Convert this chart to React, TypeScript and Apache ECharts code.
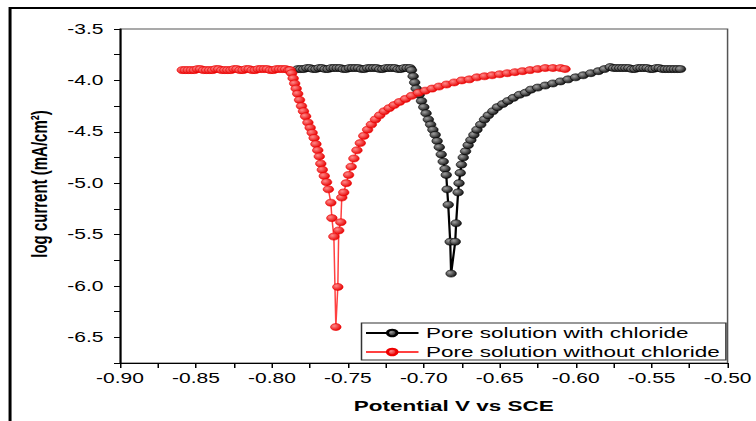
import { useEffect, useRef } from "react";
import * as echarts from "echarts";

// Potential (V vs SCE) and log current (mA/cm²)
const withChloride: [number, number][] = [
  [-0.783, -3.89], [-0.781, -3.89], [-0.779, -3.89], [-0.777, -3.88], [-0.775, -3.88],
  [-0.773, -3.89], [-0.771, -3.89], [-0.769, -3.88], [-0.767, -3.88], [-0.765, -3.89],
  [-0.763, -3.89], [-0.761, -3.88], [-0.759, -3.88], [-0.757, -3.88], [-0.755, -3.88],
  [-0.753, -3.89], [-0.751, -3.89], [-0.749, -3.88], [-0.747, -3.88], [-0.745, -3.88],
  [-0.743, -3.88], [-0.741, -3.89], [-0.739, -3.89], [-0.737, -3.88], [-0.735, -3.88],
  [-0.733, -3.88], [-0.731, -3.88], [-0.729, -3.89], [-0.727, -3.89], [-0.725, -3.88],
  [-0.723, -3.88], [-0.721, -3.88], [-0.719, -3.88], [-0.717, -3.89], [-0.715, -3.89],
  [-0.713, -3.88], [-0.711, -3.88], [-0.709, -3.88],
  [-0.7081, -3.9], [-0.707, -3.96], [-0.706, -4.02], [-0.705, -4.08], [-0.703, -4.14],
  [-0.7015, -4.2], [-0.7, -4.26], [-0.6985, -4.32], [-0.697, -4.38], [-0.6955, -4.43],
  [-0.694, -4.48], [-0.6925, -4.53], [-0.6912, -4.59], [-0.6898, -4.65], [-0.6885, -4.72],
  [-0.6872, -4.79], [-0.686, -4.86], [-0.6852, -4.92], [-0.6846, -5.06], [-0.6839, -5.21],
  [-0.6826, -5.57], [-0.682, -5.88], [-0.6793, -5.57], [-0.6787, -5.39], [-0.6774, -5.09],
  [-0.6768, -5.0], [-0.676, -4.9], [-0.6752, -4.82], [-0.674, -4.75], [-0.6725, -4.69],
  [-0.6708, -4.63], [-0.669, -4.58], [-0.667, -4.53], [-0.665, -4.48], [-0.6625, -4.43],
  [-0.66, -4.38], [-0.6575, -4.34], [-0.6545, -4.3], [-0.6515, -4.26], [-0.648, -4.23],
  [-0.6446, -4.2], [-0.641, -4.17], [-0.637, -4.14], [-0.633, -4.12], [-0.6295, -4.09],
  [-0.625, -4.07], [-0.62, -4.05], [-0.615, -4.03], [-0.61, -4.01], [-0.605, -3.99],
  [-0.6, -3.97], [-0.595, -3.95], [-0.59, -3.93], [-0.585, -3.91], [-0.581, -3.89],
  [-0.5772, -3.87], [-0.575, -3.88], [-0.573, -3.88], [-0.571, -3.88], [-0.569, -3.88],
  [-0.567, -3.88], [-0.565, -3.88], [-0.563, -3.89], [-0.561, -3.89], [-0.559, -3.88],
  [-0.557, -3.88], [-0.555, -3.88], [-0.553, -3.88], [-0.551, -3.89], [-0.549, -3.89],
  [-0.547, -3.88], [-0.545, -3.88], [-0.543, -3.89], [-0.541, -3.89], [-0.539, -3.89],
  [-0.537, -3.89], [-0.535, -3.89], [-0.533, -3.89], [-0.531, -3.89],
];

const withoutChloride: [number, number][] = [
  [-0.859, -3.9], [-0.857, -3.9], [-0.855, -3.9], [-0.853, -3.9], [-0.851, -3.9],
  [-0.849, -3.89], [-0.847, -3.89], [-0.845, -3.9], [-0.843, -3.9], [-0.841, -3.9],
  [-0.839, -3.9], [-0.837, -3.89], [-0.835, -3.89], [-0.833, -3.9], [-0.831, -3.9],
  [-0.829, -3.9], [-0.827, -3.9], [-0.825, -3.89], [-0.823, -3.89], [-0.821, -3.9],
  [-0.819, -3.9], [-0.817, -3.89], [-0.815, -3.89], [-0.813, -3.9], [-0.811, -3.9],
  [-0.809, -3.89], [-0.807, -3.89], [-0.805, -3.89], [-0.803, -3.89], [-0.801, -3.9],
  [-0.799, -3.9], [-0.797, -3.89], [-0.795, -3.89], [-0.793, -3.89], [-0.791, -3.89],
  [-0.789, -3.9], [-0.788, -3.9],
  [-0.787, -3.93], [-0.786, -3.98], [-0.785, -4.03], [-0.784, -4.08], [-0.783, -4.13],
  [-0.7818, -4.19], [-0.7805, -4.25], [-0.7792, -4.3], [-0.7778, -4.35], [-0.7763, -4.41],
  [-0.7748, -4.46], [-0.7735, -4.51], [-0.7722, -4.56], [-0.771, -4.62], [-0.7698, -4.68],
  [-0.7688, -4.74], [-0.7678, -4.81], [-0.7668, -4.87], [-0.7655, -4.93], [-0.764, -4.99],
  [-0.7628, -5.06], [-0.7612, -5.19], [-0.7605, -5.34], [-0.7592, -5.52], [-0.7579, -6.4],
  [-0.7566, -6.01], [-0.756, -5.46], [-0.7546, -5.38], [-0.754, -5.14], [-0.7527, -5.09],
  [-0.751, -5.0], [-0.7495, -4.92], [-0.7478, -4.84], [-0.746, -4.76], [-0.744, -4.68],
  [-0.7418, -4.61], [-0.7395, -4.54], [-0.737, -4.48], [-0.7345, -4.43], [-0.7318, -4.38],
  [-0.729, -4.34], [-0.726, -4.3], [-0.7228, -4.27], [-0.7195, -4.24], [-0.716, -4.21],
  [-0.712, -4.18], [-0.708, -4.15], [-0.7035, -4.12], [-0.699, -4.1], [-0.6945, -4.08],
  [-0.69, -4.06], [-0.685, -4.04], [-0.68, -4.02], [-0.675, -4.0], [-0.67, -3.99],
  [-0.665, -3.97], [-0.66, -3.96], [-0.655, -3.95], [-0.65, -3.94], [-0.645, -3.93],
  [-0.64, -3.92], [-0.635, -3.91], [-0.63, -3.9], [-0.625, -3.89], [-0.62, -3.88],
  [-0.615, -3.88], [-0.61, -3.88], [-0.607, -3.89],
];

const seriesNames = ["Pore solution with chloride", "Pore solution without chloride"];
const xName = "Potential V vs SCE";
const yName = "log current (mA/cm²)";
const xMin = -0.9;
const xMax = -0.5;
const xStep = 0.025;
const yMin = -6.75;
const yMax = -3.5;
const yStep = 0.25;

const FONT = "'Liberation Sans', Arial, Helvetica, sans-serif";

export default function App() {
  const ref = useRef<HTMLDivElement>(null);
  useEffect(() => {
    if (!ref.current) return;
    const chart = echarts.init(ref.current, null, { renderer: "svg" });
    const blackBall = new echarts.graphic.RadialGradient(0.35, 0.35, 0.7, [
      { offset: 0, color: "#a0a0a0" },
      { offset: 1, color: "#111111" },
    ]);
    const redBall = new echarts.graphic.RadialGradient(0.35, 0.35, 0.7, [
      { offset: 0, color: "#ff8a8a" },
      { offset: 1, color: "#e60000" },
    ]);
    chart.setOption({
      animation: false,
      backgroundColor: "#ffffff",
      textStyle: { fontFamily: FONT },
      graphic: [
        {
          type: "rect",
          x: 6.7,
          y: 8,
          shape: { x: 0, y: 0, width: 700, height: 600 },
          style: { fill: "none", stroke: "#000", lineWidth: 2 },
          silent: true,
          z: -1,
        },
      ],
      grid: {
        left: 80,
        right: 16.7,
        top: 29,
        bottom: 58,
        show: true,
        borderColor: "#555",
        borderWidth: 1,
        backgroundColor: "transparent",
      },
      legend: {
        orient: "vertical",
        left: 241,
        top: 323,
        padding: [2, 4, 0, 2],
        itemGap: 3,
        itemWidth: 35,
        itemHeight: 8,
        borderColor: "#333",
        borderWidth: 1,
        backgroundColor: "#fff",
        textStyle: { fontSize: 15, color: "#000", lineHeight: 16, fontFamily: FONT },
        data: seriesNames,
      },
      xAxis: {
        type: "value",
        min: xMin,
        max: xMax,
        interval: xStep,
        axisLine: { show: true, onZero: false, lineStyle: { color: "#000", width: 1.2 } },
        axisTick: { show: true, inside: false, length: 5, lineStyle: { color: "#000" } },
        axisLabel: {
          margin: 8,
          fontSize: 14,
          color: "#000",
          fontFamily: FONT,
          formatter: (v: number) => (Math.round(v * 1000) % 50 === 0 ? v.toFixed(2) : ""),
        },
        splitLine: { show: false },
        name: xName,
        nameLocation: "middle",
        nameGap: 35,
        nameTextStyle: {
          fontWeight: "bold",
          fontSize: 15,
          color: "#000",
          fontFamily: FONT,
          padding: [0, 0, 0, 40],
        },
      },
      yAxis: {
        type: "value",
        min: yMin,
        max: yMax,
        interval: yStep,
        axisLine: { show: true, onZero: false, lineStyle: { color: "#000", width: 1.2 } },
        axisTick: { show: true, inside: false, length: 4, lineStyle: { color: "#000" } },
        axisLabel: {
          margin: 11,
          fontSize: 14,
          color: "#000",
          fontFamily: FONT,
          formatter: (v: number) => (Math.round(v * 100) % 50 === 0 ? v.toFixed(1) : ""),
        },
        splitLine: { show: false },
        name: yName,
        nameLocation: "middle",
        nameGap: 45,
        nameTextStyle: {
          fontWeight: "bold",
          fontSize: 15,
          color: "#000",
          fontFamily: FONT,
          padding: [0, 0, 0, 24],
        },
      },
      series: [
        {
          name: seriesNames[0],
          type: "line",
          data: withChloride,
          symbol: "circle",
          symbolSize: 7,
          showSymbol: true,
          showAllSymbol: true,
          lineStyle: { color: "#000", width: 1.5 },
          itemStyle: { color: blackBall, borderColor: "#000", borderWidth: 0.5 },
          z: 3,
        },
        {
          name: seriesNames[1],
          type: "line",
          data: withoutChloride,
          symbol: "circle",
          symbolSize: 7,
          showSymbol: true,
          showAllSymbol: true,
          lineStyle: { color: "#ff4040", width: 1 },
          itemStyle: { color: redBall, borderColor: "#ee0000", borderWidth: 0.5 },
          z: 4,
        },
      ],
    });
    return () => chart.dispose();
  }, []);
  return (
    <div
      ref={ref}
      style={{
        position: "fixed",
        left: 0,
        top: 0,
        width: 504,
        height: 421,
        transform: "scaleX(1.5)",
        transformOrigin: "0 0",
        background: "#fff",
      }}
    />
  );
}
